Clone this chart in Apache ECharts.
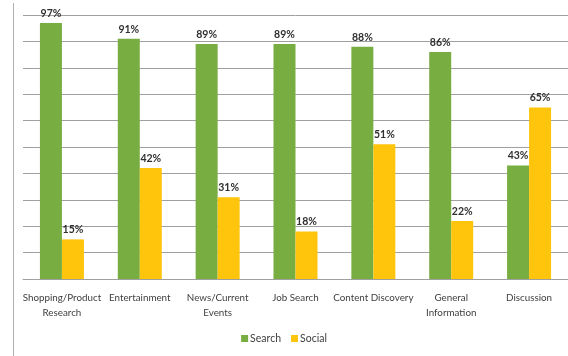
<!DOCTYPE html>
<html>
<head>
<meta charset="utf-8">
<script src="https://cdn.jsdelivr.net/npm/echarts@6/dist/echarts.min.js"></script>
<style>
  html, body { margin: 0; padding: 0; background: #fff; }
  #chart { width: 568px; height: 356px; }
</style>
</head>
<body>
<div id="chart"></div>
<script>
const categories = ['Shopping/Product\nResearch', 'Entertainment', 'News/Current\nEvents', 'Job Search', 'Content Discovery', 'General\nInformation', 'Discussion'];
const searchValues = [97, 91, 89, 89, 88, 86, 43];
const socialValues = [15, 42, 31, 18, 51, 22, 65];

const chart = echarts.init(document.getElementById('chart'));
const labelStyle = {
    show: true,
    position: 'top',
    distance: 4,
    formatter: '{c}%',
    color: '#303030',
    fontSize: 10.5,
    fontWeight: 'bold',
    fontFamily: 'Lato'
};
chart.setOption({
    animation: false,
    grid: { left: 23, top: 15, width: 546, bottom: 77 },
    legend: {
        data: ['Search', 'Social'],
        bottom: 7,
        left: 'center',
        itemWidth: 7,
        itemHeight: 7,
        itemGap: 10,
        icon: 'rect',
        textStyle: { color: '#404040', fontSize: 10.5, fontFamily: 'Lato', padding: [0, 0, 0, -3] }
    },
    xAxis: {
        type: 'category',
        data: categories,
        axisLine: { lineStyle: { color: '#a0a0a0' } },
        axisTick: { length: 4, lineStyle: { color: '#a0a0a0' } },
        axisLabel: { color: '#404040', fontSize: 9.8, fontFamily: 'Lato', lineHeight: 15, margin: 11, interval: 0 }
    },
    yAxis: {
        type: 'value',
        min: 0,
        max: 100,
        interval: 10,
        axisLabel: { show: false },
        axisLine: { show: false },
        axisTick: { show: false },
        splitLine: { lineStyle: { color: '#a0a0a0' } }
    },
    graphic: [{
        type: 'line',
        shape: { x1: 13.5, y1: 3, x2: 13.5, y2: 356 },
        style: { stroke: '#b0b0b0', lineWidth: 1 }
    }],
    series: [
        {
            name: 'Search',
            type: 'bar',
            data: searchValues,
            barWidth: 22,
            barGap: '0%',
            itemStyle: { color: '#77AD41' },
            label: labelStyle
        },
        {
            name: 'Social',
            type: 'bar',
            data: socialValues,
            barWidth: 22,
            itemStyle: { color: '#FFC40C' },
            label: labelStyle
        }
    ]
});
</script>
</body>
</html>
